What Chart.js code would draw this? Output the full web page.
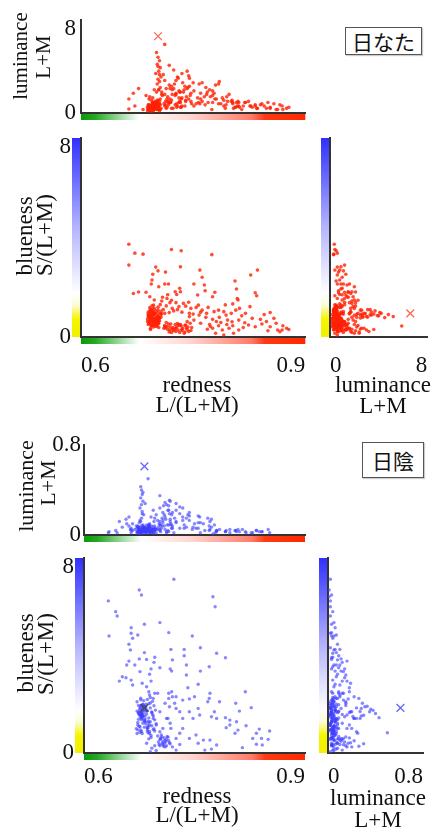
<!DOCTYPE html>
<html lang="ja">
<head>
<meta charset="utf-8">
<title>redness / blueness / luminance</title>
<script src="https://cdn.jsdelivr.net/npm/chart.js@4.4.1/dist/chart.umd.min.js"></script>
<style>
  html, body { margin: 0; background: #fff; }
  body { position: relative; width: 434px; height: 828px; overflow: hidden;
         font-family: "Liberation Serif", serif; color: #111; }
  canvas { position: absolute; }
  .title { position: absolute; white-space: nowrap; line-height: 1; transform: translate(-50%, -50%); }
  .title.rot { transform: translate(-50%, -50%) rotate(-90deg); }
  .tag { position: absolute; box-sizing: border-box; border: 1px solid #555; background: #fff;
         font-family: "Noto Sans CJK JP", sans-serif; font-size: 21px; line-height: 1;
         display: flex; align-items: center; justify-content: center; box-shadow: 1px 1px 1px #ccc; }
</style>
</head>
<body>
<canvas id="sunTop" width="312" height="124" style="left:0;top:0"></canvas>
<canvas id="sunMain" width="312" height="252" style="left:0;top:128px"></canvas>
<canvas id="sunSide" width="122" height="252" style="left:312px;top:128px"></canvas>
<canvas id="shadeTop" width="312" height="122" style="left:0;top:425px"></canvas>
<canvas id="shadeMain" width="312" height="252" style="left:0;top:548px"></canvas>
<canvas id="shadeSide" width="122" height="252" style="left:312px;top:548px"></canvas>
<div class="tag" style="left:345px;top:27px;width:77px;height:28px">日なた</div>
<div class="tag" style="left:362px;top:442px;width:62px;height:36px">日陰</div>
<script>
// axis ranges / tick labels
const rednessTicks = [0.6, 0.9];
const bluenessTicks = [0, 8];
const sunLuminanceTicks = [0, 8];
const shadeLuminanceTicks = [0, 0.8];

// 日なた samples: one value per sample in each array
const sunRedness = [
  // dense core
  0.690,0.692,0.694,0.696,0.698,0.700,0.702,0.704,0.693,0.697,
  0.691,0.695,0.699,0.701,0.703,0.705,0.689,0.694,0.698,0.702,
  0.690,0.693,0.696,0.699,0.704,0.707,0.692,0.695,0.700,0.706,
  0.691,0.694,0.697,0.701,0.703,0.696,0.699,0.692,0.698,0.705,
  0.693,0.697,0.700,0.695,0.702,0.690,0.704,0.696,0.699,0.694,
  // bright column
  0.701,0.703,0.705,0.702,0.706,0.704,0.700,0.707,0.703,0.705,
  0.702,0.706,0.704,0.701,0.708,0.703,0.705,0.712,
  // low tail
  0.712,0.716,0.720,0.724,0.728,0.732,0.736,0.740,0.744,0.748,
  0.714,0.718,0.722,0.726,0.730,0.734,0.738,0.742,0.746,0.719,
  0.727,0.735,0.713,0.739,0.731,
  // middle
  0.692,0.698,0.708,0.715,0.719,0.727,0.731,0.740,0.747,0.754,
  0.762,0.770,0.778,0.784,0.791,0.726,0.732,0.733,0.728,0.756,
  0.766,0.779,0.776,0.712,0.717,0.694,0.751,0.765,0.704,0.695,
  0.670,0.677,0.687,0.806,0.808,0.809,0.810,0.793,0.803,0.807,
  0.833,0.835,0.710,0.714,0.718,0.722,0.706,0.724,0.712,0.735,
  0.745,0.716,
  // high blueness
  0.664,0.672,0.683,0.664,0.721,0.734,0.775,0.733,0.700,0.703,
  0.713,0.696,0.759,0.836,0.827,0.762,
  // right side
  0.820,0.829,0.840,0.853,0.858,0.767,0.776,0.785,0.796,0.802,
  0.811,0.819,0.745,0.751,0.758,0.853,0.863,0.869,0.875,0.866,
  0.824,0.833,0.842,0.769,0.776,0.780,0.789,0.791,0.798,0.804,
  0.811,0.760,0.772,0.784,0.795,0.815,0.845,0.870,0.878,0.850,
  0.760,
  // core, second pass
  0.689,0.691,0.693,0.695,0.697,0.699,0.701,0.703,0.705,0.690,
  0.692,0.694,0.696,0.698,0.700,0.702,0.704,0.706,0.691,0.693,
  0.695,0.697,0.699,0.701,0.703,0.690,0.694,0.698,0.702,0.696,
  // tail, second pass
  0.711,0.715,0.719,0.723,0.727,0.731,0.735,0.739,0.743,0.747,
  0.717,0.725,0.733,0.741,0.721,0.729,
  // scattered
  0.742,0.757,0.768,0.781,0.794,0.812,0.826,0.848,0.861,0.773,
  0.787,0.801,0.817,0.709,0.721,0.737,0.750,0.729,0.744,0.803
];
const sunBlueness = [
  0.50,0.62,0.75,0.88,0.95,1.05,0.70,0.55,1.10,0.40,
  0.85,0.98,0.60,0.80,1.20,0.65,0.72,0.45,1.15,0.92,
  1.00,0.35,0.68,0.52,0.78,1.02,0.90,1.25,0.58,0.84,
  0.60,0.82,0.96,0.42,1.08,0.74,0.66,1.18,0.48,0.95,
  0.30,1.28,0.88,0.56,0.64,0.92,0.38,1.12,0.76,0.70,
  0.82,0.90,0.78,0.95,0.86,0.92,0.88,0.80,0.94,0.84,
  0.76,0.91,0.87,0.79,0.93,0.85,0.89,0.44,
  0.45,0.30,0.52,0.25,0.40,0.18,0.35,0.48,0.22,0.38,
  0.58,0.20,0.32,0.50,0.28,0.44,0.15,0.30,0.55,0.40,
  0.35,0.26,0.36,0.46,0.50,
  1.62,1.49,1.45,1.55,1.38,1.38,1.22,1.24,1.15,1.19,
  1.08,1.19,1.02,1.08,1.02,1.82,1.96,1.82,1.71,1.69,
  1.86,1.80,1.62,2.13,2.13,2.13,2.13,2.09,2.02,2.29,
  1.75,1.81,1.80,2.25,1.93,1.55,1.49,1.29,1.33,1.08,
  1.78,1.66,1.10,1.25,0.98,1.15,1.30,1.05,0.95,1.00,
  0.95,1.70,
  3.73,3.37,3.33,2.89,3.52,3.47,3.31,2.82,2.81,2.66,
  2.61,2.52,2.69,2.69,2.49,2.40,
  0.95,0.75,0.71,0.98,0.75,0.79,0.71,0.79,0.68,0.61,
  0.68,0.57,0.82,0.68,0.88,0.41,0.28,0.28,0.35,0.21,
  0.48,0.41,0.52,0.31,0.35,0.15,0.28,0.08,0.35,0.15,
  0.28,0.55,0.50,0.45,0.50,0.85,0.90,0.45,0.30,0.25,
  1.00,
  0.62,0.78,0.94,0.50,0.66,0.84,1.00,0.58,0.74,0.88,
  1.04,0.46,0.60,0.76,0.92,0.48,0.64,0.80,0.54,0.70,
  0.86,1.02,0.44,0.68,0.52,0.82,1.06,0.62,0.96,0.90,
  0.35,0.42,0.28,0.38,0.22,0.46,0.30,0.20,0.40,0.26,
  0.52,0.32,0.50,0.36,0.18,0.54,
  0.62,1.28,0.95,0.62,0.88,1.15,1.22,0.62,0.55,0.42,
  0.58,0.95,0.38,1.60,1.48,1.35,0.92,1.10,1.40,0.45
];
const sunLuminance = [
  0.3,0.5,0.2,0.8,0.4,0.6,0.9,0.3,0.5,0.2,
  0.7,0.4,1.0,0.3,0.6,0.8,0.5,0.2,0.4,1.1,
  0.3,0.6,0.9,0.5,0.7,0.4,0.2,0.5,0.8,0.3,
  1.2,0.6,0.4,0.7,0.3,0.9,0.5,0.4,0.6,1.0,
  0.3,0.5,0.7,0.2,0.8,0.4,0.6,0.3,0.9,0.5,
  5.2,4.8,4.5,4.2,3.9,3.6,3.4,3.1,2.9,2.7,
  2.5,2.2,2.0,1.8,1.6,4.0,3.3,5.9,
  0.6,1.4,0.9,2.1,0.5,1.8,2.6,1.1,3.2,0.8,
  0.4,2.4,1.6,0.7,3.0,1.2,2.0,3.6,1.5,0.9,
  2.8,0.6,1.0,2.3,1.3,
  1.4,2.0,1.8,1.2,2.1,1.6,1.9,1.0,1.7,0.8,
  2.6,0.9,1.7,2.5,1.1,1.5,1.0,1.8,0.8,1.3,
  0.7,1.2,1.9,1.6,0.9,1.1,0.6,1.4,2.0,0.8,
  1.7,2.1,1.5,0.5,0.9,0.6,1.0,0.4,0.8,0.5,
  0.7,0.4,3.3,2.1,4.1,2.0,1.2,3.7,2.8,3.4,
  2.3,1.0,
  0.35,0.6,0.3,1.2,0.4,0.5,0.3,0.9,0.6,1.1,
  0.7,1.3,0.8,0.4,0.6,1.0,
  0.9,0.5,0.7,0.4,0.8,2.2,1.5,2.7,1.0,1.1,
  0.6,0.9,3.0,1.9,2.5,0.5,0.3,0.6,0.4,0.7,
  1.0,0.6,0.8,1.8,0.9,2.4,1.3,0.6,1.6,0.4,
  0.9,1.2,2.0,0.8,1.4,0.3,0.6,0.3,0.5,0.9,
  1.7,
  0.2,0.4,0.6,0.3,0.5,0.7,0.9,0.4,0.2,0.6,
  0.3,0.5,0.8,0.4,0.6,0.3,0.5,0.7,0.4,0.2,
  0.6,0.3,0.5,0.8,0.4,0.7,0.3,0.5,0.6,0.4,
  0.8,0.5,1.2,0.4,1.7,0.9,1.3,0.6,2.2,1.0,
  0.7,2.5,0.5,1.4,1.1,0.6,
  2.1,0.9,1.6,1.2,0.7,0.5,0.6,0.4,0.3,1.4,
  0.8,1.0,0.6,1.5,2.3,1.8,2.6,3.1,1.2,0.9
];

// 日陰 samples
const shadeRedness = [
  // dense band
  0.672,0.674,0.676,0.678,0.680,0.682,0.684,0.686,0.673,0.677,
  0.681,0.685,0.675,0.679,0.683,0.687,0.671,0.676,0.680,0.684,
  0.674,0.678,0.682,0.686,0.673,0.677,0.681,0.675,0.679,0.683,
  0.688,0.672,0.676,0.680,0.684,0.690,0.674,0.678,0.682,0.686,
  // bright column
  0.677,0.678,0.679,0.677,0.680,0.678,0.676,0.679,0.681,0.678,
  0.677,0.680,0.687,0.683,
  // second cluster
  0.700,0.703,0.706,0.709,0.712,0.715,0.702,0.705,0.708,0.711,
  0.714,0.717,0.704,0.710,0.707,
  // near axis
  0.685,0.692,0.698,0.720,0.725,0.730,0.690,0.696,
  // high blueness
  0.722,0.675,0.678,0.633,0.775,0.778,0.643,0.645,0.682,0.703,
  0.634,0.664,0.664,0.666,0.673,0.715,0.747,0.758,0.780,0.792,
  0.661,0.663,0.718,0.736,0.736,0.682,0.696,0.675,0.685,0.720,
  0.695,0.661,0.658,0.669,0.739,0.770,0.758,0.717,0.719,0.703,
  0.691,0.676,0.689,0.739,0.755,0.741,0.648,0.652,0.657,0.664,
  0.666,0.679,0.685,0.691,0.688,
  // middle and right
  0.819,0.827,0.806,0.811,0.771,0.770,0.768,0.750,0.743,0.734,
  0.725,0.719,0.715,0.784,0.777,0.780,0.773,0.792,0.798,0.798,
  0.793,0.807,0.809,0.820,0.805,0.838,0.852,0.834,0.841,0.850,
  0.829,0.834,0.842,0.815,0.757,0.755,0.743,0.748,0.734,0.730,
  0.725,0.723,0.716,0.714,0.717,0.707,0.718,0.743,0.752,0.762,
  0.755,0.771,0.780,0.773,0.764,0.734,0.730,0.725,0.694,0.700,
  0.710,0.715,0.720,0.696,0.689,0.703,0.712,0.694,0.698,0.703,
  // band, second pass
  0.686,0.688,0.690,0.692,0.694,0.696,0.698,0.687,0.689,0.691,
  0.693,0.695,0.697,0.685,0.688,0.690,0.692,0.694,0.689,0.691,
  0.684,0.686,0.693,0.695,0.688,0.690,0.692,0.687,0.689,0.696,
  0.673,0.675,0.677,0.679,0.681,0.683,0.674,0.676,0.678,0.680,
  0.682,0.672,0.684,0.678,0.680,
  // second cluster, second pass
  0.701,0.704,0.707,0.710,0.713,0.716,0.703,0.709,0.712,0.706
];
const shadeBlueness = [
  2.10,1.95,1.80,1.65,1.50,1.35,1.20,1.05,0.95,2.25,
  1.88,1.72,1.58,1.42,1.28,1.12,1.00,0.85,2.00,1.75,
  1.62,1.48,1.30,0.90,1.15,2.18,1.92,1.70,1.55,1.40,
  1.25,0.80,1.08,1.98,1.82,2.05,1.38,1.60,1.78,0.98,
  1.45,1.62,1.80,1.92,1.55,1.70,1.85,1.50,1.66,1.95,
  1.58,1.75,0.83,1.52,
  0.70,0.55,0.40,0.62,0.30,0.50,0.35,0.74,0.28,0.45,
  0.65,0.38,0.58,0.25,0.48,
  0.40,0.20,0.10,0.25,0.12,0.35,0.05,0.30,
  7.13,6.69,6.48,6.24,6.41,6.00,5.80,5.62,5.28,5.35,
  4.80,5.14,4.91,4.71,4.84,4.94,4.80,4.32,4.09,3.91,
  4.46,4.23,4.25,4.25,3.99,4.12,3.93,3.86,3.84,3.82,
  3.72,3.77,3.61,3.61,3.61,3.54,3.36,3.45,3.36,3.50,
  3.45,3.34,3.23,3.20,2.82,2.68,2.95,3.13,3.09,2.99,
  2.79,2.86,2.72,2.95,2.51,
  2.51,1.86,2.04,1.72,2.45,2.24,2.10,2.31,2.22,2.17,
  2.31,2.51,2.24,2.10,1.69,1.42,1.49,1.45,1.35,1.15,
  1.04,1.28,0.94,1.12,0.81,0.98,0.90,0.81,0.60,0.56,
  0.60,0.36,0.33,0.22,1.56,1.83,1.69,1.42,1.42,1.69,
  1.83,2.04,1.90,1.42,1.22,1.01,1.01,0.60,0.74,0.53,
  0.40,0.53,0.33,0.16,0.12,1.01,0.81,0.60,2.24,2.45,
  2.04,2.45,2.31,2.45,2.38,1.69,1.42,1.42,1.15,0.87,
  2.20,2.02,1.85,1.68,1.52,1.36,1.20,1.04,0.88,0.72,
  2.12,1.94,1.76,1.60,1.44,1.28,1.12,0.96,0.80,0.64,
  1.90,1.74,1.58,1.00,0.58,2.28,1.66,1.30,1.14,0.90,
  1.25,1.10,0.95,0.80,2.15,1.90,1.66,1.52,1.36,1.22,
  1.06,1.72,2.00,0.88,1.85,
  0.45,0.62,0.34,0.52,0.68,0.42,0.30,0.40,0.55,0.66
];
const shadeLuminance = [
  0.02,0.05,0.03,0.08,0.04,0.06,0.02,0.07,0.03,0.05,
  0.04,0.09,0.02,0.06,0.03,0.05,0.08,0.04,0.07,0.03,
  0.05,0.02,0.06,0.04,0.08,0.03,0.05,0.07,0.02,0.04,
  0.06,0.03,0.05,0.09,0.02,0.04,0.07,0.03,0.06,0.05,
  0.43,0.40,0.36,0.33,0.30,0.27,0.24,0.21,0.18,0.15,
  0.12,0.38,0.50,0.28,
  0.05,0.12,0.08,0.18,0.03,0.22,0.10,0.06,0.26,0.14,
  0.04,0.30,0.09,0.16,0.11,
  0.03,0.08,0.05,0.20,0.12,0.06,0.02,0.15,
  0.02,0.01,0.03,0.02,0.01,0.02,0.04,0.02,0.03,0.05,
  0.03,0.06,0.02,0.04,0.07,0.03,0.05,0.02,0.04,0.03,
  0.08,0.05,0.10,0.06,0.09,0.07,0.04,0.11,0.03,0.08,
  0.12,0.16,0.10,0.05,0.07,0.04,0.11,0.14,0.06,0.09,
  0.03,0.13,0.08,0.15,0.06,0.18,0.12,0.07,0.14,0.04,
  0.10,0.19,0.05,0.16,0.09,
  0.03,0.02,0.04,0.03,0.12,0.08,0.15,0.10,0.17,0.13,
  0.22,0.18,0.26,0.05,0.09,0.04,0.14,0.03,0.05,0.02,
  0.04,0.03,0.05,0.02,0.04,0.03,0.02,0.04,0.03,0.05,
  0.02,0.04,0.03,0.05,0.16,0.11,0.20,0.07,0.24,0.19,
  0.28,0.15,0.31,0.22,0.12,0.20,0.09,0.13,0.06,0.10,
  0.17,0.05,0.03,0.07,0.04,0.16,0.25,0.11,0.07,0.13,
  0.29,0.09,0.06,0.04,0.10,0.35,0.27,0.22,0.18,0.24,
  0.04,0.02,0.06,0.03,0.05,0.08,0.02,0.04,0.07,0.03,
  0.05,0.02,0.06,0.04,0.09,0.03,0.05,0.02,0.07,0.04,
  0.03,0.06,0.02,0.05,0.08,0.04,0.03,0.06,0.02,0.05,
  0.03,0.06,0.02,0.05,0.04,0.07,0.02,0.05,0.03,0.08,
  0.04,0.06,0.03,0.05,0.02,
  0.07,0.03,0.13,0.05,0.09,0.19,0.04,0.08,0.02,0.15
];

// illuminant (x marker): redness, blueness, luminance
const sunIlluminant = [0.703, 0.95, 6.6];
const shadeIlluminant = [0.682, 1.85, 0.61];

// styles
const SUN_DOT = 'rgba(255,32,4,0.8)';
const SHADE_DOT = 'rgba(62,62,255,0.62)';
const SUN_MARK = 'rgba(255,80,60,0.9)';
const SHADE_MARK = 'rgba(80,80,255,0.9)';
const AXIS_COLOR = '#333';
const TICK_FONT = {family: 'Liberation Serif', size: 23};
const REDNESS_STOPS = [[0,'#0a9a0a'],[0.06,'#22a822'],[0.26,'#ffffff'],[0.5,'#ffd2cc'],[0.76,'#ff7a68'],[0.82,'#ff3a12'],[1,'#ff2800']];
const BLUENESS_STOPS = [[0,'#f0f000'],[0.09,'#f5f500'],[0.16,'#fbfbd8'],[0.22,'#ffffff'],[0.55,'#b4b4ff'],[1,'#3030ff']];

// colour bars along the axes
const gradientBars = {
  id: 'gradientBars',
  afterDatasetsDraw(chart, args, opts) {
    const {ctx, chartArea: a} = chart;
    ctx.save();
    if (opts.redness) {
      const g = ctx.createLinearGradient(a.left, 0, a.right, 0);
      REDNESS_STOPS.forEach(([p, c]) => g.addColorStop(p, c));
      ctx.fillStyle = g;
      ctx.fillRect(a.left, a.bottom + 1, a.right - a.left, 6);
    }
    if (opts.blueness) {
      const g = ctx.createLinearGradient(0, a.bottom, 0, a.top);
      BLUENESS_STOPS.forEach(([p, c]) => g.addColorStop(p, c));
      ctx.fillStyle = g;
      ctx.fillRect(a.left - 9, a.top, 8, a.bottom - a.top);
    }
    ctx.restore();
  }
};

function pairs(xs, ys) { return xs.map((v, i) => ({x: v, y: ys[i]})); }

function scatterPlot(id, o) {
  const xt = o.xTicks, yt = o.yTicks;
  return new Chart(document.getElementById(id), {
    type: 'scatter',
    data: {datasets: [
      {data: [o.mark], pointStyle: 'crossRot', pointRadius: 5.5, pointBorderWidth: 1.2,
       pointBorderColor: o.markColor, pointBackgroundColor: 'transparent'},
      {data: o.points, pointRadius: o.dot || 1.8, pointBorderWidth: 0, pointBackgroundColor: o.color}
    ]},
    options: {
      responsive: false, animation: false, events: [], devicePixelRatio: 1,
      layout: {padding: {top: o.pad[0], right: o.pad[1], bottom: 0, left: 0}},
      plugins: {legend: {display: false}, tooltip: {enabled: false}, gradientBars: o.bars},
      scales: {
        x: {
          type: 'linear', min: xt[0], max: xt[1],
          afterBuildTicks: s => { s.ticks = xt.map(v => ({value: v})); },
          afterFit: s => { s.height = o.xHeight; s.paddingLeft = 0; s.paddingRight = 0; },
          grid: {display: false, drawTicks: false},
          border: {display: true, color: AXIS_COLOR, width: 2},
          ticks: {display: o.xLabels, align: 'inner', padding: o.xPad || 0, color: '#111',
                  font: TICK_FONT, maxRotation: 0, autoSkip: false, callback: v => String(v)}
        },
        y: {
          type: 'linear', min: yt[0], max: yt[1],
          afterBuildTicks: s => { s.ticks = yt.map(v => ({value: v})); },
          afterFit: s => { s.width = o.yWidth; s.paddingTop = 0; s.paddingBottom = 0; },
          grid: {display: false, drawTicks: false},
          border: {display: true, color: AXIS_COLOR, width: 2},
          ticks: {display: o.yLabels, padding: o.yPad || 0, color: '#111', autoSkip: false,
                  font: Object.assign({}, TICK_FONT, {lineHeight: 0.8}),
                  // the top label sits just under the end of the axis
                  callback: v => (o.shiftTop && v === yt[1]) ? ['', String(v)] : String(v)}
        }
      }
    },
    plugins: [gradientBars]
  });
}

// 日なた
scatterPlot('sunTop', {
  points: pairs(sunRedness, sunLuminance), color: SUN_DOT,
  mark: {x: sunIlluminant[0], y: sunIlluminant[2]}, markColor: SUN_MARK,
  xTicks: rednessTicks, yTicks: sunLuminanceTicks,
  pad: [20, 5], yWidth: 81, xHeight: 11, xLabels: false, yLabels: true, yPad: 5, shiftTop: true,
  bars: {redness: true}
});
scatterPlot('sunMain', {
  points: pairs(sunRedness, sunBlueness), color: SUN_DOT,
  mark: {x: sunIlluminant[0], y: sunIlluminant[1]}, markColor: SUN_MARK,
  xTicks: rednessTicks, yTicks: bluenessTicks,
  pad: [10, 5], yWidth: 81, xHeight: 43, xLabels: true, xPad: 15, yLabels: true, yPad: 10, shiftTop: true,
  bars: {redness: true, blueness: true}
});
scatterPlot('sunSide', {
  points: pairs(sunLuminance, sunBlueness), color: SUN_DOT,
  mark: {x: sunIlluminant[2], y: sunIlluminant[1]}, markColor: SUN_MARK,
  xTicks: sunLuminanceTicks, yTicks: bluenessTicks,
  pad: [10, 6], yWidth: 18, xHeight: 43, xLabels: true, xPad: 15, yLabels: false,
  bars: {blueness: true}
});

// 日陰
scatterPlot('shadeTop', {
  points: pairs(shadeRedness, shadeLuminance), color: SHADE_DOT, dot: 1.7,
  mark: {x: shadeIlluminant[0], y: shadeIlluminant[2]}, markColor: SHADE_MARK,
  xTicks: rednessTicks, yTicks: shadeLuminanceTicks,
  pad: [20, 7], yWidth: 84, xHeight: 12, xLabels: false, yLabels: true, yPad: 3, shiftTop: false,
  bars: {redness: true}
});
scatterPlot('shadeMain', {
  points: pairs(shadeRedness, shadeBlueness), color: SHADE_DOT, dot: 1.7,
  mark: {x: shadeIlluminant[0], y: shadeIlluminant[1]}, markColor: '#4a4a4a',
  xTicks: rednessTicks, yTicks: bluenessTicks,
  pad: [10, 7], yWidth: 84, xHeight: 47, xLabels: true, xPad: 10, yLabels: true, yPad: 10, shiftTop: true,
  bars: {redness: true, blueness: true}
});
scatterPlot('shadeSide', {
  points: pairs(shadeLuminance, shadeBlueness), color: SHADE_DOT, dot: 1.7,
  mark: {x: shadeIlluminant[2], y: shadeIlluminant[1]}, markColor: SHADE_MARK,
  xTicks: shadeLuminanceTicks, yTicks: bluenessTicks,
  pad: [10, 11], yWidth: 16, xHeight: 47, xLabels: true, xPad: 10, yLabels: false,
  bars: {blueness: true}
});

// axis titles: text, centre x, centre y, font size, rotated
const titles = [
  ['luminance', 20, 56, 21, true], ['L+M', 43, 57, 21, true],
  ['blueness', 24, 236, 23, true], ['S/(L+M)', 44, 235, 23, true],
  ['redness', 197, 384, 23, false], ['L/(L+M)', 197, 404, 23, false],
  ['luminance', 383, 384, 23, false], ['L+M', 383, 405, 23, false],
  ['luminance', 26, 486, 22, true], ['L+M', 48, 483, 22, true],
  ['blueness', 25, 653, 23, true], ['S/(L+M)', 45, 654, 23, true],
  ['redness', 197, 795, 23, false], ['L/(L+M)', 197, 814, 23, false],
  ['luminance', 378, 797, 23, false], ['L+M', 378, 819, 23, false]
];
titles.forEach(([text, cx, cy, size, rot]) => {
  const d = document.createElement('div');
  d.className = rot ? 'title rot' : 'title';
  d.textContent = text;
  d.style.left = cx + 'px';
  d.style.top = cy + 'px';
  d.style.fontSize = size + 'px';
  document.body.appendChild(d);
});
</script>
</body>
</html>
